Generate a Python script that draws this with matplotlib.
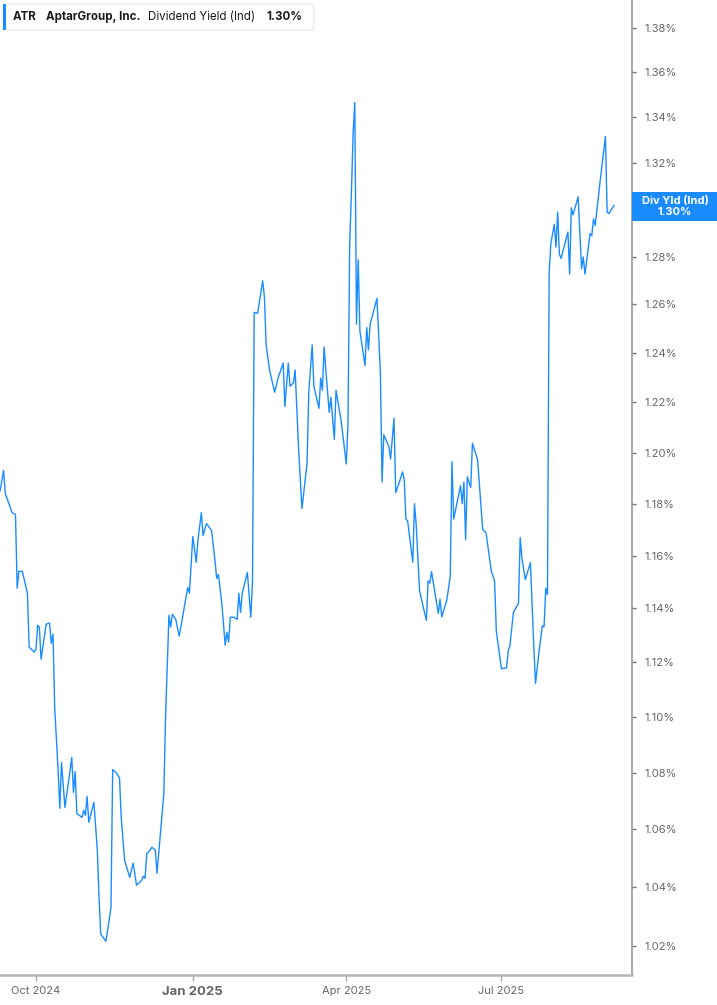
import matplotlib
matplotlib.use("Agg")
import matplotlib.pyplot as plt
import matplotlib.dates as mdates
from matplotlib.patches import FancyBboxPatch, Rectangle
from matplotlib.ticker import FixedLocator, NullLocator
import pandas as pd

# ATR dividend yield (indicated), percent
dates = [
    "2024-09-10", "2024-09-12", "2024-09-13", "2024-09-17", "2024-09-19", "2024-09-20", "2024-09-21",
    "2024-09-23", "2024-09-26", "2024-09-27", "2024-09-30", "2024-10-01", "2024-10-02", "2024-10-03",
    "2024-10-04", "2024-10-07", "2024-10-09", "2024-10-10", "2024-10-11", "2024-10-12", "2024-10-14",
    "2024-10-15", "2024-10-16", "2024-10-18", "2024-10-21", "2024-10-22", "2024-10-23", "2024-10-24",
    "2024-10-25", "2024-10-28", "2024-10-29", "2024-10-30", "2024-10-31", "2024-11-01", "2024-11-04",
    "2024-11-06", "2024-11-07", "2024-11-08", "2024-11-11", "2024-11-12", "2024-11-14", "2024-11-15",
    "2024-11-17", "2024-11-19", "2024-11-20", "2024-11-22", "2024-11-25", "2024-11-27", "2024-11-29",
    "2024-12-02", "2024-12-03", "2024-12-04", "2024-12-05", "2024-12-06", "2024-12-08", "2024-12-10",
    "2024-12-11", "2024-12-13", "2024-12-15", "2024-12-16", "2024-12-18", "2024-12-19", "2024-12-20",
    "2024-12-22", "2024-12-24", "2024-12-25", "2024-12-27", "2024-12-29", "2024-12-30", "2025-01-01",
    "2025-01-03", "2025-01-04", "2025-01-06", "2025-01-07", "2025-01-09", "2025-01-12", "2025-01-14",
    "2025-01-15", "2025-01-16", "2025-01-18", "2025-01-20", "2025-01-21", "2025-01-22", "2025-01-23",
    "2025-01-25", "2025-01-27", "2025-01-28", "2025-01-29", "2025-01-30", "2025-02-02", "2025-02-04",
    "2025-02-05", "2025-02-06", "2025-02-08", "2025-02-11", "2025-02-12", "2025-02-13", "2025-02-15",
    "2025-02-18", "2025-02-20", "2025-02-23", "2025-02-24", "2025-02-26", "2025-02-27", "2025-03-01",
    "2025-03-02", "2025-03-04", "2025-03-06", "2025-03-09", "2025-03-10", "2025-03-12", "2025-03-13",
    "2025-03-16", "2025-03-17", "2025-03-18", "2025-03-19", "2025-03-20", "2025-03-22", "2025-03-23",
    "2025-03-25", "2025-03-26", "2025-03-29", "2025-04-01", "2025-04-02", "2025-04-03", "2025-04-04",
    "2025-04-05", "2025-04-06", "2025-04-07", "2025-04-08", "2025-04-09", "2025-04-12", "2025-04-13",
    "2025-04-14", "2025-04-15", "2025-04-19", "2025-04-21", "2025-04-22", "2025-04-23", "2025-04-26",
    "2025-04-27", "2025-04-29", "2025-04-30", "2025-05-02", "2025-05-04", "2025-05-05", "2025-05-06",
    "2025-05-07", "2025-05-10", "2025-05-11", "2025-05-12", "2025-05-14", "2025-05-18", "2025-05-19",
    "2025-05-20", "2025-05-21", "2025-05-25", "2025-05-26", "2025-05-27", "2025-05-30", "2025-06-01",
    "2025-06-02", "2025-06-03", "2025-06-07", "2025-06-08", "2025-06-09", "2025-06-10", "2025-06-11",
    "2025-06-13", "2025-06-14", "2025-06-17", "2025-06-20", "2025-06-22", "2025-06-25", "2025-06-27",
    "2025-06-28", "2025-07-01", "2025-07-04", "2025-07-05", "2025-07-06", "2025-07-08", "2025-07-09",
    "2025-07-11", "2025-07-12", "2025-07-13", "2025-07-15", "2025-07-18", "2025-07-20", "2025-07-21",
    "2025-07-23", "2025-07-25", "2025-07-26", "2025-07-27", "2025-07-28", "2025-07-29", "2025-07-30",
    "2025-08-01", "2025-08-02", "2025-08-03", "2025-08-04", "2025-08-05", "2025-08-09", "2025-08-10",
    "2025-08-11", "2025-08-12", "2025-08-15", "2025-08-17", "2025-08-18", "2025-08-19", "2025-08-22",
    "2025-08-23", "2025-08-24", "2025-08-25", "2025-08-28", "2025-08-31", "2025-09-01", "2025-09-02",
    "2025-09-05",
]
div_yield = [
    1.185, 1.193, 1.184, 1.1765, 1.1758, 1.1476, 1.154,
    1.154, 1.1457, 1.1256, 1.1237, 1.1248, 1.1337, 1.133,
    1.1211, 1.1341, 1.1345, 1.127, 1.1304, 1.1033, 1.0807,
    1.0674, 1.0836, 1.0677, 1.0807, 1.0854, 1.073, 1.0804,
    1.0656, 1.0642, 1.0667, 1.0649, 1.0716, 1.0625, 1.0695,
    1.0528, 1.0366, 1.0241, 1.0217, 1.0252, 1.0331, 1.0811,
    1.08, 1.0782, 1.0642, 1.0493, 1.0434, 1.0483, 1.0407,
    1.0424, 1.0438, 1.0431, 1.0517, 1.0521, 1.0538, 1.0528,
    1.0448, 1.0586, 1.0726, 1.0996, 1.1374, 1.133, 1.1378,
    1.1359, 1.1297, 1.133, 1.1404, 1.1479, 1.1457, 1.1673,
    1.1574, 1.1658, 1.1765, 1.1677, 1.1723, 1.1696, 1.1581,
    1.1513, 1.1528, 1.1419, 1.1263, 1.1311, 1.1274, 1.1367,
    1.1367, 1.1359, 1.1457, 1.1385, 1.1457, 1.1536, 1.1367,
    1.1498, 1.2567, 1.2563, 1.2698, 1.263, 1.2433, 1.2331,
    1.2241, 1.2298, 1.2359, 1.2184, 1.2359, 1.2265, 1.2278,
    1.2331, 1.202, 1.1781, 1.1957, 1.2237, 1.2433, 1.2265,
    1.2176, 1.2298, 1.2249, 1.2425, 1.2331, 1.216, 1.222,
    1.2052, 1.2249, 1.2126, 1.1955, 1.2114, 1.285, 1.3068,
    1.3326, 1.3466, 1.2518, 1.2786, 1.249, 1.2349, 1.2504,
    1.2413, 1.2518, 1.2625, 1.2322, 1.1884, 1.2071, 1.2023,
    1.1975, 1.2137, 1.1843, 1.1881, 1.1924, 1.1894, 1.174,
    1.1733, 1.1575, 1.18, 1.172, 1.1465, 1.1355, 1.1504,
    1.1495, 1.1539, 1.1381, 1.1435, 1.1368, 1.1432, 1.1523,
    1.1964, 1.174, 1.187, 1.18, 1.1884, 1.1661, 1.1905,
    1.1863, 1.2037, 1.1973, 1.1701, 1.1687, 1.1543, 1.1503,
    1.1315, 1.1176, 1.1179, 1.1242, 1.1262, 1.1384, 1.1397,
    1.1419, 1.1669, 1.1591, 1.1509, 1.1573, 1.1255, 1.1122,
    1.1236, 1.1335, 1.1331, 1.1476, 1.1452, 1.2734, 1.2855,
    1.2937, 1.284, 1.2989, 1.281, 1.2792, 1.2904, 1.2726,
    1.3007, 1.2977, 1.3054, 1.2749, 1.2798, 1.2726, 1.2897,
    1.2888, 1.296, 1.2932, 1.3129, 1.3316, 1.2989, 1.2982,
    1.3017,
]

ticker = "ATR"
company = "AptarGroup, Inc."
metric = "Dividend Yield (Ind)"
last_label = "1.30%"
y_ticks = [1.02, 1.04, 1.06, 1.08, 1.10, 1.12, 1.14, 1.16, 1.18, 1.20,
           1.22, 1.24, 1.26, 1.28, 1.30, 1.32, 1.34, 1.36, 1.38]
x_ticks = ["2024-10-01", "2025-01-01", "2025-04-01", "2025-07-01"]
x_tick_labels = ["Oct 2024", "Jan 2025", "Apr 2025", "Jul 2025"]

blue = "#1a8cff"
grey_text = "#666666"
W, H = 717, 1005

fig = plt.figure(figsize=(W / 100, H / 100), dpi=100)
ax = fig.add_axes([0, 1 - 975 / H, 632 / W, 975 / H])

x = pd.to_datetime(dates)
ax.plot(x, div_yield, color=blue, lw=1.0)

ax.set_yscale("log")
ax.set_ylim(1.0104, 1.3928)
ax.set_xlim(pd.Timestamp("2024-09-09 22:00"), pd.Timestamp("2025-09-15 14:00"))

# the 1.30% label sits under the last-value flag
ax.yaxis.set_major_locator(FixedLocator(y_ticks))
ax.yaxis.set_minor_locator(NullLocator())
ax.set_yticklabels(["" if f"{v:.2f}%" == last_label else f"{v:.2f}%" for v in y_ticks])
ax.yaxis.tick_right()
ax.tick_params(axis="y", which="major", length=3, width=1, color="#777777",
               direction="out", pad=6, labelsize=8, labelcolor=grey_text)

ax.xaxis.set_major_locator(FixedLocator(mdates.date2num(pd.to_datetime(x_ticks))))
ax.set_xticklabels(x_tick_labels)
ax.tick_params(axis="x", length=4, width=1, color="#aaaaaa", pad=4,
               labelsize=8, labelcolor=grey_text)
for lab in ax.get_xticklabels():
    lab.set_fontfamily("Inter")
    if lab.get_text().startswith("Jan"):
        lab.set_fontweight("bold")
        lab.set_fontsize(9.5)
for lab in ax.get_yticklabels():
    lab.set_fontfamily("Inter")

for s in ["left", "top"]:
    ax.spines[s].set_visible(False)
ax.spines["right"].set_color("#999999")
ax.spines["right"].set_linewidth(1.2)
ax.spines["bottom"].set_color("#b5b5b5")
ax.spines["bottom"].set_linewidth(1.8)


def fx(px):
    return px / W


def fy(py):
    return 1 - py / H


# header box
fig.patches.append(FancyBboxPatch((fx(4), fy(30)), fx(310), 26 / H,
                                  boxstyle="round,pad=0,rounding_size=0.004",
                                  transform=fig.transFigure, facecolor="white",
                                  edgecolor="#e6e6e6", lw=0.8, zorder=5))
fig.patches.append(Rectangle((fx(3), fy(30)), fx(3), 26 / H, transform=fig.transFigure,
                             facecolor=blue, edgecolor="none", zorder=6))
hdr_y = fy(17)
hdr_size = 8.3
fig.text(fx(13), hdr_y, ticker, fontsize=hdr_size, fontweight="bold", family="Inter",
         color="#1a1a1a", va="center", zorder=7)
fig.text(fx(46), hdr_y, company, fontsize=hdr_size, fontweight="bold", family="Inter",
         color="#1a1a1a", va="center", zorder=7)
fig.text(fx(148), hdr_y, metric, fontsize=hdr_size, family="Inter",
         color="#1a1a1a", va="center", zorder=7)
fig.text(fx(266), hdr_y, last_label, fontsize=hdr_size, fontweight="bold", family="Inter",
         color="#1a1a1a", va="center", zorder=7)

# last value flag on the axis
fig.patches.append(Rectangle((fx(632), fy(221)), fx(85), 29 / H, transform=fig.transFigure,
                             facecolor=blue, edgecolor="none", zorder=6))
fig.text(fx(675), fy(201), "Div Yld (Ind)", fontsize=8, fontweight="bold", family="Inter",
         color="white", ha="center", va="center", zorder=7)
fig.text(fx(675), fy(212), last_label, fontsize=8, fontweight="bold", family="Inter",
         color="white", ha="center", va="center", zorder=7)

fig.savefig("out.png", dpi=100)
